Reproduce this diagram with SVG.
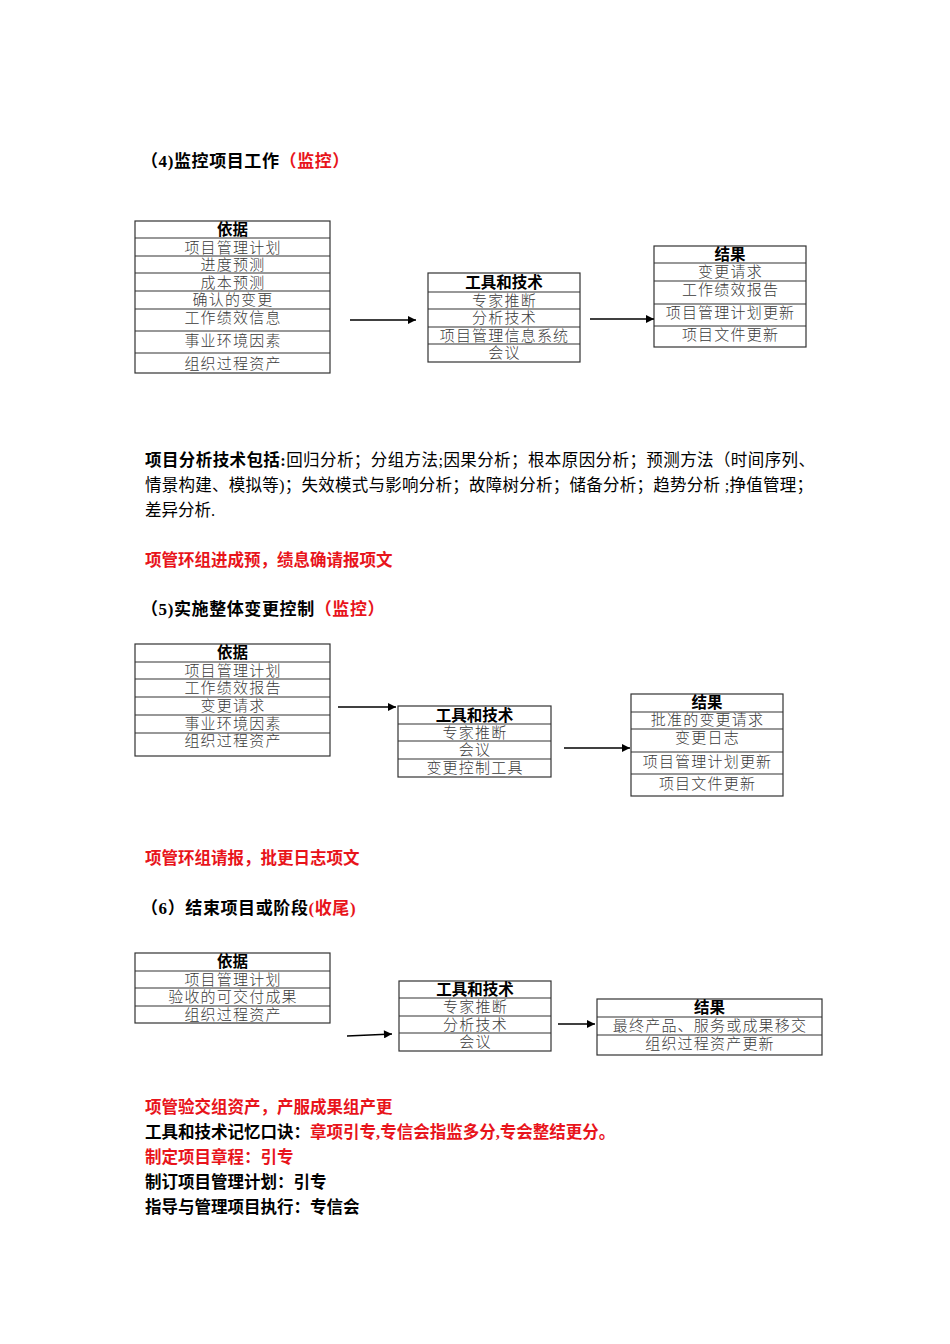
<svg xmlns="http://www.w3.org/2000/svg" width="950" height="1344" viewBox="0 0 950 1344">
<style>
text{font-family:"Liberation Serif","Noto Sans CJK SC",serif;font-size:16.5px;fill:#000}
.b{font-weight:bold}
.t{font-size:17px;letter-spacing:0.6px}
.r{fill:#e8141b}
.cell{fill:#fff;stroke:#333;stroke-width:1.2}
.ln{stroke:#333;stroke-width:1.2}
.ct{font-family:"Noto Sans CJK SC",sans-serif;font-size:15px;letter-spacing:1.2px;fill:#3a3a3a;text-anchor:middle;font-weight:300}
.ch{font-family:"Noto Sans CJK SC",sans-serif;font-size:15.5px;fill:#000;text-anchor:middle;font-weight:bold}
.conn line{stroke:#000;stroke-width:1.3}
</style>
<defs>
<marker id="ah" viewBox="0 0 10 10" refX="10" refY="5" markerWidth="10" markerHeight="8" markerUnits="userSpaceOnUse" orient="auto"><path d="M0,0 L10,5 L0,10 z" fill="#000"/></marker>
</defs>

<!-- Section 4 -->
<text class="b t" x="141" y="167">（4)监控项目工作<tspan class="r">（监控）</tspan></text>

<g id="s4-input">
<rect class="cell" x="135" y="221" width="195" height="152"/>
<line class="ln" x1="135" y1="238" x2="330" y2="238"/>
<line class="ln" x1="135" y1="256" x2="330" y2="256"/>
<line class="ln" x1="135" y1="273" x2="330" y2="273"/>
<line class="ln" x1="135" y1="291" x2="330" y2="291"/>
<line class="ln" x1="135" y1="309" x2="330" y2="309"/>
<line class="ln" x1="135" y1="331" x2="330" y2="331"/>
<line class="ln" x1="135" y1="353" x2="330" y2="353"/>
<text class="ch" x="232.5" y="235">依据</text>
<text class="ct" x="233" y="253">项目管理计划</text>
<text class="ct" x="233" y="270">进度预测</text>
<text class="ct" x="233" y="288">成本预测</text>
<text class="ct" x="233" y="305">确认的变更</text>
<text class="ct" x="233" y="323">工作绩效信息</text>
<text class="ct" x="233" y="346">事业环境因素</text>
<text class="ct" x="233" y="369">组织过程资产</text>
</g>

<g id="s4-tools">
<rect class="cell" x="428" y="273" width="152" height="89"/>
<line class="ln" x1="428" y1="292" x2="580" y2="292"/>
<line class="ln" x1="428" y1="309" x2="580" y2="309"/>
<line class="ln" x1="428" y1="327" x2="580" y2="327"/>
<line class="ln" x1="428" y1="344" x2="580" y2="344"/>
<text class="ch" x="504" y="288">工具和技术</text>
<text class="ct" x="504.5" y="306">专家推断</text>
<text class="ct" x="504.5" y="323">分析技术</text>
<text class="ct" x="504.5" y="341">项目管理信息系统</text>
<text class="ct" x="504.5" y="358">会议</text>
</g>

<g id="s4-output">
<rect class="cell" x="654" y="246" width="152" height="101"/>
<line class="ln" x1="654" y1="263" x2="806" y2="263"/>
<line class="ln" x1="654" y1="281" x2="806" y2="281"/>
<line class="ln" x1="654" y1="304" x2="806" y2="304"/>
<line class="ln" x1="654" y1="326" x2="806" y2="326"/>
<text class="ch" x="730" y="260">结果</text>
<text class="ct" x="730.5" y="277">变更请求</text>
<text class="ct" x="730.5" y="295">工作绩效报告</text>
<text class="ct" x="730.5" y="318">项目管理计划更新</text>
<text class="ct" x="730.5" y="340">项目文件更新</text>
</g>

<!-- Paragraph -->
<text x="145" y="466" textLength="670" lengthAdjust="spacing"><tspan class="b">项目分析技术包括:</tspan>回归分析；分组方法;因果分析；根本原因分析；预测方法（时间序列、</text>
<text x="145" y="491" textLength="668" lengthAdjust="spacing">情景构建、模拟等)；失效模式与影响分析；故障树分析；储备分析；趋势分析 ;挣值管理；</text>
<text x="145" y="516">差异分析.</text>

<text class="b r" x="145" y="566">项管环组进成预，绩息确请报项文</text>

<!-- Section 5 -->
<text class="b t" x="141" y="615">（5)实施整体变更控制<tspan class="r">（监控）</tspan></text>

<g id="s5-input">
<rect class="cell" x="135" y="644" width="195" height="112"/>
<line class="ln" x1="135" y1="662" x2="330" y2="662"/>
<line class="ln" x1="135" y1="679" x2="330" y2="679"/>
<line class="ln" x1="135" y1="697" x2="330" y2="697"/>
<line class="ln" x1="135" y1="715" x2="330" y2="715"/>
<line class="ln" x1="135" y1="733" x2="330" y2="733"/>
<text class="ch" x="232.5" y="658">依据</text>
<text class="ct" x="233" y="676">项目管理计划</text>
<text class="ct" x="233" y="693">工作绩效报告</text>
<text class="ct" x="233" y="711">变更请求</text>
<text class="ct" x="233" y="729">事业环境因素</text>
<text class="ct" x="233" y="746">组织过程资产</text>
</g>

<g id="s5-tools">
<rect class="cell" x="398" y="706" width="153" height="71"/>
<line class="ln" x1="398" y1="724" x2="551" y2="724"/>
<line class="ln" x1="398" y1="741" x2="551" y2="741"/>
<line class="ln" x1="398" y1="759" x2="551" y2="759"/>
<text class="ch" x="474.5" y="721">工具和技术</text>
<text class="ct" x="475" y="738">专家推断</text>
<text class="ct" x="475" y="755">会议</text>
<text class="ct" x="475" y="773">变更控制工具</text>
</g>

<g id="s5-output">
<rect class="cell" x="631" y="694" width="152" height="102"/>
<line class="ln" x1="631" y1="712" x2="783" y2="712"/>
<line class="ln" x1="631" y1="729" x2="783" y2="729"/>
<line class="ln" x1="631" y1="752" x2="783" y2="752"/>
<line class="ln" x1="631" y1="774" x2="783" y2="774"/>
<text class="ch" x="707" y="708">结果</text>
<text class="ct" x="707.5" y="725">批准的变更请求</text>
<text class="ct" x="707.5" y="743">变更日志</text>
<text class="ct" x="707.5" y="767">项目管理计划更新</text>
<text class="ct" x="707.5" y="789">项目文件更新</text>
</g>

<text class="b r" x="145" y="864">项管环组请报，批更日志项文</text>

<!-- Section 6 -->
<text class="b t" x="141" y="914">（6）结束项目或阶段<tspan class="r">(收尾)</tspan></text>

<g id="s6-input">
<rect class="cell" x="135" y="953" width="195" height="70"/>
<line class="ln" x1="135" y1="971" x2="330" y2="971"/>
<line class="ln" x1="135" y1="988" x2="330" y2="988"/>
<line class="ln" x1="135" y1="1006" x2="330" y2="1006"/>
<text class="ch" x="232.5" y="967">依据</text>
<text class="ct" x="233" y="985">项目管理计划</text>
<text class="ct" x="233" y="1002">验收的可交付成果</text>
<text class="ct" x="233" y="1020">组织过程资产</text>
</g>

<g id="s6-tools">
<rect class="cell" x="399" y="981" width="152" height="70"/>
<line class="ln" x1="399" y1="998" x2="551" y2="998"/>
<line class="ln" x1="399" y1="1016" x2="551" y2="1016"/>
<line class="ln" x1="399" y1="1033" x2="551" y2="1033"/>
<text class="ch" x="475" y="995">工具和技术</text>
<text class="ct" x="475.5" y="1012">专家推断</text>
<text class="ct" x="475.5" y="1030">分析技术</text>
<text class="ct" x="475.5" y="1047">会议</text>
</g>

<g id="s6-output">
<rect class="cell" x="597" y="999" width="225" height="56"/>
<line class="ln" x1="597" y1="1017" x2="822" y2="1017"/>
<line class="ln" x1="597" y1="1035" x2="822" y2="1035"/>
<text class="ch" x="709.5" y="1013">结果</text>
<text class="ct" x="710" y="1031">最终产品、服务或成果移交</text>
<text class="ct" x="710" y="1049">组织过程资产更新</text>
</g>

<g id="connectors" class="conn">
<line x1="350" y1="320" x2="416" y2="320" marker-end="url(#ah)"/>
<line x1="590" y1="319" x2="654" y2="319" marker-end="url(#ah)"/>
<line x1="338" y1="707" x2="396" y2="707" marker-end="url(#ah)"/>
<line x1="564" y1="748" x2="630" y2="748" marker-end="url(#ah)"/>
<line x1="347" y1="1036" x2="392" y2="1034" marker-end="url(#ah)"/>
<line x1="558" y1="1024" x2="595" y2="1024" marker-end="url(#ah)"/>
</g>

<!-- Bottom notes -->
<text class="b r" x="145" y="1113">项管验交组资产，产服成果组产更</text>
<text class="b" x="145" y="1138">工具和技术记忆口诀：<tspan class="r">章项引专,专信会指监多分,专会整结更分。</tspan></text>
<text class="b r" x="145" y="1163">制定项目章程：引专</text>
<text class="b" x="145" y="1188">制订项目管理计划：引专</text>
<text class="b" x="145" y="1213">指导与管理项目执行：专信会</text>
</svg>
